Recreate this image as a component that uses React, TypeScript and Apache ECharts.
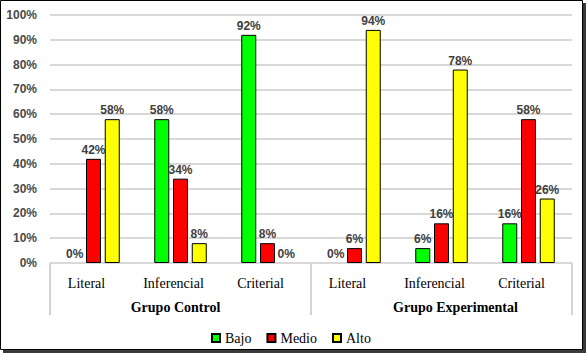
import React, { useEffect, useRef } from "react";
import * as echarts from "echarts";

const categories = ["Literal", "Inferencial", "Criterial", "Literal", "Inferencial", "Criterial"];
const groups = ["Grupo Control", "Grupo Experimental"];
const seriesNames = ["Bajo", "Medio", "Alto"];
const bajo = [0, 58, 92, 0, 6, 16];
const medio = [42, 34, 8, 6, 16, 58];
const alto = [58, 8, 0, 94, 78, 26];
const yTicks = { min: 0, max: 100, interval: 10 };

const colors = ["#00ff00", "#ff0000", "#ffff00"];

export default function App() {
  const ref = useRef<HTMLDivElement>(null);
  useEffect(() => {
    if (!ref.current) return;
    const chart = echarts.init(ref.current, undefined, { renderer: "svg" });
    const sans = "Arial, 'Liberation Sans', sans-serif";
    const serif = "'Times New Roman', 'Liberation Serif', 'DejaVu Serif', serif";
    const values = [bajo, medio, alto];
    const groupText = { fontFamily: serif, fontSize: 14, fontWeight: "bold", color: "#000" };
    chart.setOption({
      animation: false,
      graphic: [
        { type: "rect", z: -100, silent: true, shape: { x: 3, y: 3, width: 583, height: 350 }, style: { fill: "#3a3a3a" } },
        { type: "rect", z: -99, silent: true, shape: { x: 0.5, y: 0.5, width: 582, height: 349 }, style: { fill: "#ffffff", stroke: "#000000", lineWidth: 1 } },
      ],
      grid: { left: 50, right: 16, top: 15, bottom: 100, containLabel: false },
      legend: {
        data: seriesNames,
        left: 206,
        top: 326,
        itemWidth: 8,
        itemHeight: 8,
        itemGap: 15,
        icon: "rect",
        textStyle: { fontFamily: serif, fontSize: 14, color: "#000" },
      },
      xAxis: [
        {
          type: "category",
          data: categories,
          axisLine: { show: false },
          axisTick: { show: false },
          axisLabel: { fontFamily: serif, fontSize: 14, color: "#000", margin: 13, padding: [0, 14, 0, 0], interval: 0 },
        },
        {
          type: "category",
          position: "bottom",
          data: [
            { value: groups[0], textStyle: { ...groupText, padding: [0, 10, 0, 0] } },
            { value: groups[1], textStyle: { ...groupText, padding: [0, 0, 0, 28] } },
          ],
          axisLine: { show: false },
          axisTick: { show: true, length: 52, lineStyle: { color: "#d4d4d4", width: 2 } },
          axisLabel: { ...groupText, margin: 37, interval: 0 },
          splitLine: { show: false },
        },
      ],
      yAxis: {
        type: "value",
        min: yTicks.min,
        max: yTicks.max,
        interval: yTicks.interval,
        axisLine: { show: false },
        axisTick: { show: false },
        splitLine: { lineStyle: { color: "#d8d8d8", width: 2 } },
        axisLabel: {
          formatter: "{value}%",
          fontFamily: sans,
          fontSize: 12,
          fontWeight: "bold",
          color: "#4a4a4a",
          margin: 13,
          padding: [5, 0, 0, 0],
        },
      },
      series: seriesNames.map((name, i) => ({
        name,
        type: "bar",
        xAxisIndex: 0,
        data: values[i].map((v) => (v === 0 ? { value: v, itemStyle: { borderWidth: 0 } } : v)),
        barWidth: 15,
        barGap: "25%",
        itemStyle: { color: colors[i], borderColor: "#000", borderWidth: 1 },
        label: {
          show: true,
          position: "top",
          distance: 3,
          formatter: "{c}%",
          fontFamily: sans,
          fontSize: 12,
          fontWeight: "bold",
          color: "#404040",
        },
      })),
    });
    return () => chart.dispose();
  }, []);
  return <div ref={ref} style={{ position: "absolute", left: 0, top: 0, width: 588, height: 363 }} />;
}
